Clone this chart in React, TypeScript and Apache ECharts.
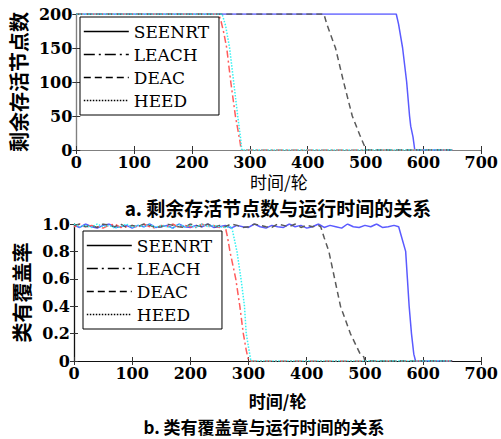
import React, { useEffect, useRef } from 'react';
import * as echarts from 'echarts';

// ---- Data ----
const seriesNames = ['SEENRT', 'LEACH', 'DEAC', 'HEED'];
const xTickMax = 700;
const xTickStep = 100;

// (a) remaining alive nodes vs round
const aliveSEENRT: number[][] = [[0, 200], [553, 200], [557, 185], [564, 150], [571, 100], [576, 50], [578, 35], [582, 19], [585, 0], [650, 0]];
const aliveLEACH: number[][] = [[0, 200], [246, 200], [250, 190], [255, 172], [260, 150], [267, 100], [275, 50], [283, 12], [285, 0], [650, 0]];
const aliveDEAC: number[][] = [[0, 200], [428, 200], [433, 185], [448, 150], [462, 100], [477, 50], [490, 22], [501, 0], [650, 0]];
const aliveHEED: number[][] = [[0, 200], [252, 200], [258, 183], [265, 150], [272, 100], [279, 50], [284, 17], [286, 0], [650, 0]];

// (b) coverage vs round: noisy flat part (rounds + read values), then drop part
const flatRounds = [0, 10, 20, 30, 40, 50, 60, 70, 80, 90, 100, 110, 120, 130, 140, 150, 160, 170, 180, 190, 200, 210, 220, 230, 240, 250, 260, 270, 280, 290, 300, 310, 320, 330, 340, 350, 360, 370, 380, 390, 400, 410, 420, 430, 440, 450, 460, 470, 480, 490, 500, 510, 520, 530, 540, 550];
const flatSEENRT = [
  0.99, 0.975, 1.00, 0.98, 0.97, 0.99, 1.00, 0.975, 0.98, 0.99,
  0.97, 0.99, 0.98, 1.00, 0.975, 0.98, 0.99, 0.97, 1.00, 0.98,
  0.975, 0.99, 0.98, 1.00, 0.975, 0.98, 0.99, 0.97, 0.99, 0.98,
  0.975, 1.00, 0.98, 0.97, 0.99, 0.98, 0.975, 1.00, 0.98, 0.99,
  0.97, 0.98, 1.00, 0.975, 0.99, 0.98, 0.97, 1.00, 0.98, 0.975,
  0.99, 0.98, 1.00, 0.975, 0.98, 0.99,
];
const flatLEACH = [
  0.98, 1.00, 0.975, 0.99, 0.98, 0.97, 0.99, 1.00, 0.975, 0.98,
  0.99, 0.975, 1.00, 0.98, 0.97, 0.99, 0.98, 1.00, 0.975, 0.99,
  0.98, 0.975, 1.00, 0.98, 0.99, 0.975,
];
const flatHEED = [
  1.00, 0.98, 0.99, 0.975, 1.00, 0.98, 0.99, 0.97, 0.98, 1.00,
  0.975, 0.99, 0.98, 1.00, 0.975, 0.99, 0.98, 0.97, 1.00, 0.98,
  0.99, 0.975, 1.00, 0.98, 0.99, 0.98, 0.975,
];
const flatDEAC = [
  0.99, 1.00, 0.98, 0.99, 0.975, 1.00, 0.99, 0.98, 1.00, 0.975,
  0.99, 0.98, 1.00, 0.99, 0.975, 0.98, 1.00, 0.99, 0.98, 0.975,
  1.00, 0.99, 0.98, 1.00, 0.975, 0.99, 0.98, 1.00, 0.99, 0.975,
  0.98, 1.00, 0.99, 0.98, 0.975, 1.00, 0.99, 0.98, 1.00, 0.975,
  0.99, 0.98, 0.99,
];
const dropSEENRT: number[][] = [[558, 0.98], [562, 0.92], [570, 0.8], [573, 0.6], [576, 0.4], [580, 0.2], [584, 0.05], [587, 0], [650, 0]];
const dropLEACH: number[][] = [[260, 0.98], [264, 0.9], [268, 0.8], [278, 0.6], [285, 0.4], [291, 0.2], [296, 0.08], [300, 0], [650, 0]];
const dropHEED: number[][] = [[271, 0.98], [275, 0.9], [280, 0.8], [287, 0.6], [293, 0.4], [296, 0.2], [300, 0.1], [304, 0], [650, 0]];
const dropDEAC: number[][] = [[424, 0.98], [430, 0.9], [438, 0.8], [448, 0.6], [458, 0.4], [475, 0.2], [492, 0.05], [498, 0.03], [500, 0], [650, 0]];

const zip = (rounds: number[], vals: number[]) => vals.map((v, i) => [rounds[i], v]);

// ---- Styles ----
const colors: Record<string, string> = { SEENRT: '#5a5aff', LEACH: '#ff5c5c', DEAC: '#5a5a5a', HEED: '#33f2f2' };
const dashes: Record<string, any> = { SEENRT: 'solid', LEACH: [7, 3, 2, 3], DEAC: [6, 4], HEED: [1.5, 1.5] };
const legendDashes: Record<string, any> = { SEENRT: 'solid', LEACH: [11, 4, 2, 4], DEAC: [7, 4], HEED: [1.5, 1.5] };
const serif = 'DejaVu Serif';
const cjkName = 'Noto Sans CJK SC';

export default function App() {
  const ref = useRef<HTMLDivElement>(null);
  useEffect(() => {
    if (!ref.current) return;
    const chart = echarts.init(ref.current, undefined, { renderer: 'svg' });

    const grids = [
      { left: 74, top: 14, width: 412, height: 136 },
      { left: 74, top: 224, width: 411, height: 137 },
    ];
    const tickLabel = { fontFamily: serif, fontSize: 16, fontWeight: 'bold', color: '#000' };

    const mkX = (g: number, pos: 'bottom' | 'top', name: string, gap: number, lineColor: string, nameWeight: string) => ({
      gridIndex: g, type: 'value', min: 0, max: xTickMax, interval: xTickStep, position: pos,
      axisLine: { show: true, lineStyle: { color: lineColor, width: 1.2 } },
      axisTick: { show: true, inside: true, length: 4, lineStyle: { color: '#333' } },
      axisLabel: { show: pos === 'bottom', margin: 4, ...tickLabel },
      splitLine: { show: false },
      name: pos === 'bottom' ? name : '', nameLocation: 'middle', nameGap: gap,
      nameTextStyle: { fontFamily: cjkName, fontSize: 17, lineHeight: 17, fontWeight: nameWeight, color: '#000' },
    });
    const mkY = (g: number, pos: 'left' | 'right', max: number, step: number, name: string, gap: number, lineColor: string, fmt: (v: number) => string) => ({
      gridIndex: g, type: 'value', min: 0, max, interval: step, position: pos,
      axisLine: { show: true, lineStyle: { color: lineColor, width: 1.2 } },
      axisTick: { show: true, inside: true, length: 4, lineStyle: { color: '#333' } },
      axisLabel: { show: pos === 'left', margin: 4, formatter: fmt, ...tickLabel },
      splitLine: { show: false },
      name: pos === 'left' ? name : '', nameLocation: 'middle', nameGap: gap, nameRotate: 90,
      nameTextStyle: { fontFamily: cjkName, fontSize: 20, lineHeight: 20, fontWeight: 'bold', color: '#000' },
    });

    const topData: Record<string, number[][]> = { SEENRT: aliveSEENRT, LEACH: aliveLEACH, DEAC: aliveDEAC, HEED: aliveHEED };
    const botData: Record<string, number[][]> = {
      SEENRT: [...zip(flatRounds, flatSEENRT), ...dropSEENRT],
      LEACH: [...zip(flatRounds, flatLEACH), ...dropLEACH],
      DEAC: [...zip(flatRounds, flatDEAC), ...dropDEAC],
      HEED: [...zip(flatRounds, flatHEED), ...dropHEED],
    };

    const mkSeries = (name: string, data: number[][], xi: number, yi: number) => ({
      type: 'line', name, data, xAxisIndex: xi, yAxisIndex: yi,
      symbol: 'none', showSymbol: false, smooth: false,
      lineStyle: { color: colors[name], width: 1.5, type: dashes[name], cap: 'butt' },
      itemStyle: { color: colors[name] },
    });

    const legendData = seriesNames.map((n) => ({
      name: n,
      lineStyle: { color: '#000', width: 1.6, type: legendDashes[n], cap: 'butt' },
      itemStyle: { opacity: 0, color: 'rgba(0,0,0,0)', borderWidth: 0 },
    }));
    const mkLegend = (left: number, top: number) => ({
      orient: 'vertical', left, top, padding: [6, 10, 6, 3], itemWidth: 45, itemHeight: 18, itemGap: 6,
      borderColor: '#000', borderWidth: 1, backgroundColor: '#fff', borderRadius: 0,
      textStyle: { fontFamily: serif, fontSize: 17, color: '#000' }, selectedMode: false,
      data: legendData,
    });

    chart.setOption({
      animation: false,
      backgroundColor: '#fff',
      grid: grids,
      xAxis: [
        mkX(0, 'bottom', '时间/轮', 23, '#808080', 'normal'),
        mkX(0, 'top', '', 0, '#808080', 'normal'),
        mkX(1, 'bottom', '时间/轮', 31, '#808080', 'bold'),
        mkX(1, 'top', '', 0, '#111', 'normal'),
      ],
      yAxis: [
        mkY(0, 'left', 200, 50, '剩余存活节点数', 43, '#808080', (v) => String(v)),
        mkY(0, 'right', 200, 50, '', 0, '#808080', (v) => String(v)),
        mkY(1, 'left', 1, 0.2, '类有覆盖率', 40, '#808080', (v) => (v === 0 ? '0' : v.toFixed(1))),
        mkY(1, 'right', 1, 0.2, '', 0, '#111', (v) => String(v)),
      ],
      legend: [mkLegend(80, 17), mkLegend(83, 231)],
      series: [
        ...seriesNames.map((n) => mkSeries(n, topData[n], 0, 0)),
        ...seriesNames.map((n) => mkSeries(n, botData[n], 2, 2)),
      ],
      graphic: [
        {
          type: 'text', x: 278, y: 207,
          style: { text: 'a. 剩余存活节点数与运行时间的关系', fill: '#000', fontFamily: cjkName, fontSize: 19, lineHeight: 19, fontWeight: 'bold', align: 'center', verticalAlign: 'middle' },
        },
        {
          type: 'text', x: 264, y: 426,
          style: { text: 'b. 类有覆盖章与运行时间的关系', fill: '#000', fontFamily: cjkName, fontSize: 17, lineHeight: 17, fontWeight: 'bold', align: 'center', verticalAlign: 'middle' },
        },
      ],
    });
    return () => chart.dispose();
  }, []);

  return <div ref={ref} style={{ position: 'fixed', left: 0, top: 0, width: 501, height: 439, background: '#fff' }} />;
}
